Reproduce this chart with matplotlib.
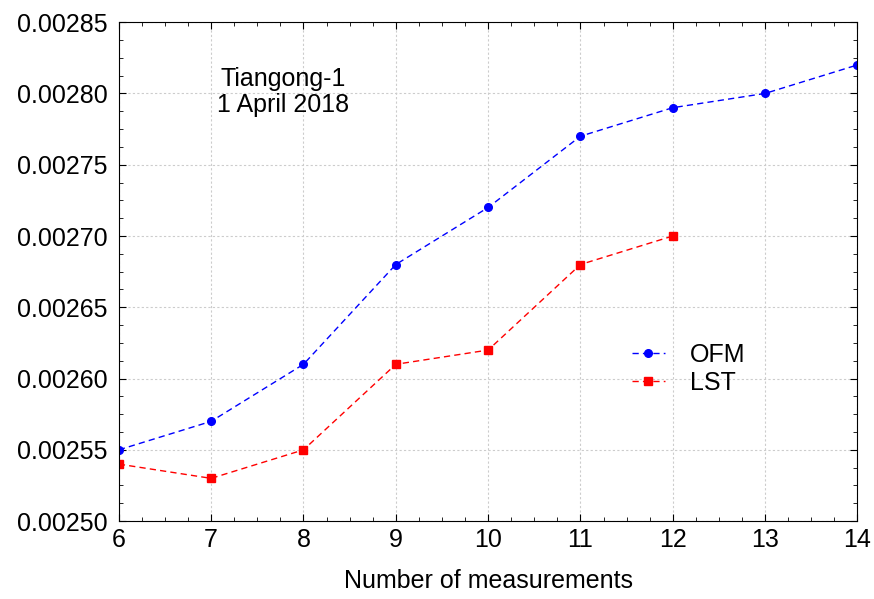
import matplotlib.pyplot as plt
from matplotlib.ticker import MultipleLocator, AutoMinorLocator, FormatStrFormatter

plt.rcParams['font.family'] = ['Liberation Sans', 'DejaVu Sans']

# Data
n_ofm = [6, 7, 8, 9, 10, 11, 12, 13, 14]
ofm = [0.00255, 0.00257, 0.00261, 0.00268, 0.00272, 0.00277, 0.00279, 0.00280, 0.00282]
n_lst = [6, 7, 8, 9, 10, 11, 12]
lst = [0.00254, 0.00253, 0.00255, 0.00261, 0.00262, 0.00268, 0.00270]

fig = plt.figure(figsize=(8.74, 5.99), dpi=100)
ax = fig.add_axes([0.136, 0.130, 0.845, 0.833])

ax.plot(n_ofm, ofm, color="blue", linestyle=(0, (4.5, 3)), linewidth=1,
        marker="o", markersize=5.5, label="OFM")
ax.plot(n_lst, lst, color="red", linestyle=(0, (4.5, 3)), linewidth=1,
        marker="s", markersize=6, label="LST")

ax.set_xlim(6, 14)
ax.set_ylim(0.00250, 0.00285)
ax.xaxis.set_major_locator(MultipleLocator(1))
ax.yaxis.set_major_locator(MultipleLocator(0.00005))
ax.yaxis.set_major_formatter(FormatStrFormatter("%.5f"))
ax.xaxis.set_minor_locator(AutoMinorLocator(4))
ax.yaxis.set_minor_locator(AutoMinorLocator(4))
ax.tick_params(which="both", direction="in", top=True, right=True, labelsize=18)
ax.tick_params(which="major", length=5)
ax.tick_params(which="minor", length=3)
ax.tick_params(axis="x", pad=5)
ax.tick_params(axis="y", pad=8)
ax.grid(True, which="major", color="#cccccc", linestyle=(0, (2, 2)), linewidth=0.8)

ax.set_xlabel("Number of measurements", fontsize=18, labelpad=12)

ax.text(7.78, 0.002801, "Tiangong-1\n1 April 2018", ha="center", va="center",
        fontsize=18, linespacing=1.15)

ax.legend(loc="center left", bbox_to_anchor=(0.695, 0.305), frameon=False,
          fontsize=18, handlelength=1.3, handletextpad=1.0, labelspacing=0.15,
          borderpad=0, borderaxespad=0)

fig.savefig("out.png", dpi=100)
